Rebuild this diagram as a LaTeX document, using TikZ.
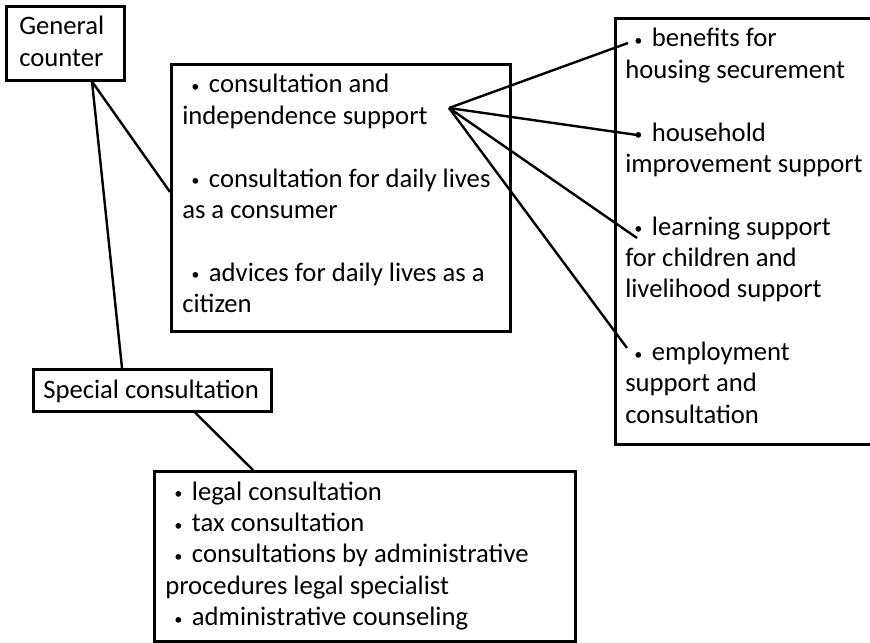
\documentclass[tikz,border=0pt]{standalone}
\usepackage{fontspec}
\setmainfont{Carlito}
\newfontfamily\jpfont{Noto Sans CJK JP}
\newcommand{\bul}{\raisebox{-3.5pt}{\jpfont ・}}
% multi-line text block whose baseline is its first line
\newcommand{\lines}[1]{\begin{tabular}[t]{@{}l@{}}#1\end{tabular}}

\begin{document}
\begin{tikzpicture}[x=0.75pt,y=-0.75pt,
  box/.style={draw, line width=1.9pt, inner sep=0pt, anchor=north west},
  txt/.style={anchor=base west, inner sep=0pt,
              font=\fontsize{20}{23.5}\selectfont},
  link/.style={line width=1.8pt}]
\useasboundingbox (0,0) rectangle (870,642);
\clip (0,0) rectangle (870,642);

% boxes
\node[box, minimum width=88.5pt,  minimum height=55.5pt]  (gc)  at (5,5) {};
\node[box, minimum width=254.25pt,minimum height=200.25pt](mid) at (170,63) {};
\node[box, minimum width=214.5pt, minimum height=319.5pt] (rgt) at (614,17) {};
\node[box, minimum width=178.5pt, minimum height=31.5pt]  (sp)  at (32,368) {};
\node[box, minimum width=315.75pt,minimum height=127.5pt] (bot) at (153,470) {};

% texts
\node[txt] (gct) at (19,35) {\lines{General\\counter}};
\node[txt] (midt) at (182,93) {\lines{\bul consultation and\\independence support\\[23.5pt]
  \bul consultation for daily lives\\as a consumer\\[23.5pt]
  \bul advices for daily lives as a\\citizen}};
\node[txt] (rgtt) at (625,47) {\lines{\bul benefits for\\housing securement\\[23.5pt]
  \bul household\\improvement support\\[23.5pt]
  \bul learning support\\for children and\\livelihood support\\[23.5pt]
  \bul employment\\support and\\consultation}};
\node[txt] (spt) at (43,398) {Special consultation};
\node[txt] (bott) at (165,500) {\lines{\bul legal consultation\\\bul tax consultation\\
  \bul consultations by administrative\\procedures legal specialist\\
  \bul administrative counseling}};

% attachment points
\path (gc.south west) ++(87,0) coordinate (gcA);
\path (mid.north west) ++(0,129) coordinate (midL);
\path (sp.north west) ++(90,0) coordinate (spT);
\path (sp.south west) ++(163,0) coordinate (spB);
\path (bot.north west) ++(100,0) coordinate (botT);
\path (mid.north west) ++(279,45) coordinate (hub);
\path (rgt.north west) ++(14,26) coordinate (r1);
\path (rgt.north west) ++(23,118) coordinate (r2);
\path (rgt.north west) ++(23,221) coordinate (r3);
\path (rgt.north west) ++(13,331) coordinate (r4);

% connectors
\draw[link] (gcA) -- (spT);
\draw[link] (gcA) -- (midL);
\draw[link] (spB) -- (botT);
\foreach \e in {r1,r2,r3,r4} \draw[link] (hub) -- (\e);
\end{tikzpicture}
\end{document}
